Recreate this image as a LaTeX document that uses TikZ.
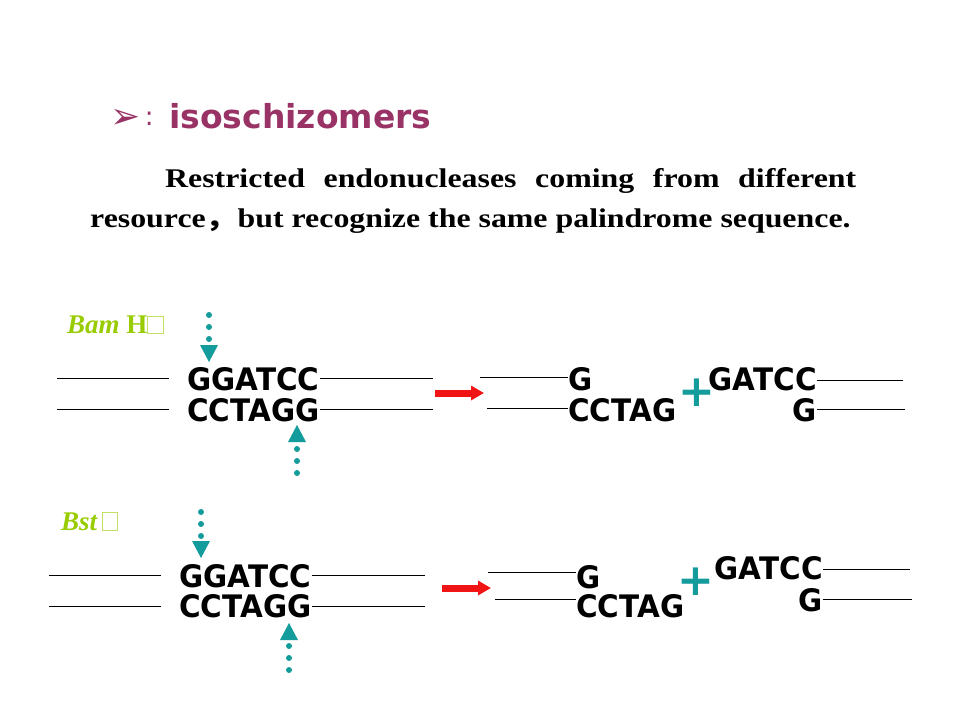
\documentclass[tikz,border=0pt]{standalone}
\usepackage{fontspec}
\usetikzlibrary{arrows.meta,positioning}
\setmainfont{Liberation Serif}
\newfontfamily\headfont{DejaVu Sans}
\newfontfamily\descfont[FakeStretch=1.18]{Liberation Serif}
\newfontfamily\seqfont[FakeStretch=0.95]{DejaVu Sans}
\newfontfamily\cjk[FakeStretch=1.18]{Noto Sans CJK SC}

\definecolor{plum}{RGB}{153,51,102}
\definecolor{cutcol}{RGB}{20,155,155}
\definecolor{lime}{RGB}{153,204,0}
\definecolor{arrowred}{RGB}{240,20,20}

% empty glyph box, as the slide prints it
\newcommand{\nobox}[2]{{\setlength{\fboxsep}{0pt}\setlength{\fboxrule}{0.6pt}\color{lime!60}\fbox{\rule{0pt}{#2}\hspace*{#1}}}}

\begin{document}
\begin{tikzpicture}[x=1pt, y=-1pt,
    seq/.style={inner sep=0, font=\seqfont\bfseries\fontsize{31}{31}\selectfont},
    enzyme/.style={inner sep=0, anchor=base west, text=lime, font=\bfseries\fontsize{27}{27}\selectfont},
    strand/.style={line width=0.8pt},
    cutdot/.style={fill=cutcol},
    plus/.style={inner sep=0, text=cutcol, font=\headfont\bfseries\fontsize{44}{44}\selectfont},
    process/.style={-{Triangle[length=13pt,width=14pt]}, line width=7pt, arrowred}]
\useasboundingbox (0,0) rectangle (960,720);

% heading
\node[inner sep=0, anchor=west, text=plum, font=\headfont\fontsize{36}{36}\selectfont] (bullet) at (110,119) {➢};
\node[inner sep=0, anchor=west, text=plum, font=\headfont\fontsize{26}{26}\selectfont, right=4pt of bullet] (colon) {:};
\node[inner sep=0, anchor=base west, text=plum, font=\headfont\bfseries\fontsize{33}{33}\selectfont] (title) at (169,128) {isoschizomers};

\node[inner sep=0, anchor=north west, text width=766pt, align=justify, font=\descfont\bfseries\fontsize{27}{40}\selectfont] (desc) at (90,168)
  {\hspace*{75pt}Restricted endonucleases coming from different\linebreak
   resource{\cjk\bfseries ，}but recognize the same palindrome sequence.};

% Bam HI
\node[enzyme] (bam) at (67,333) {\textit{Bam} H\nobox{15pt}{16pt}};
\node[seq, anchor=west] (bamtop) at (187,379) {GGATCC};
\node[seq, anchor=west] (bambot) at (187,410) {CCTAGG};
\coordinate (bl1) at (57,378);  \coordinate (bl2) at (169,378);
\coordinate (bl3) at (57,409);  \coordinate (bl4) at (169,409);
\coordinate (br1) at (433,378); \coordinate (br2) at (433,409);
\draw[strand] (bl1) -- (bl2);
\draw[strand] (bl3) -- (bl4);
\draw[strand] (bamtop.east |- bl1) -- (br1);
\draw[strand] (bambot.east |- bl3) -- (br2);
\foreach \y in {315,327,339} \fill[cutdot] (209,\y) circle (3pt);
\fill[cutcol] (209,362) -- (200,345) -- (218,345) -- cycle;
\fill[cutcol] (297,425) -- (288,442) -- (306,442) -- cycle;
\foreach \y in {449,461,473} \fill[cutdot] (297,\y) circle (3pt);

\coordinate (ba1) at (435,393); \coordinate (ba2) at (484,393);
\draw[process] (ba1) -- (ba2);

\node[seq, anchor=west] (bamg) at (568,379) {G};
\node[seq, anchor=west] (bamcc) at (568,410) {CCTAG};
\coordinate (bf1) at (480,377); \coordinate (bf2) at (487,408);
\draw[strand] (bf1) -- (bamg.west |- bf1);
\draw[strand] (bf2) -- (bamcc.west |- bf2);
\node[plus] (bamplus) at (697,393) {+};
\node[seq, anchor=east] (bamga) at (817,379) {GATCC};
\node[seq, anchor=east] (bamg2) at (817,410) {G};
\coordinate (bg1) at (903,380); \coordinate (bg2) at (905,409);
\draw[strand] (bamga.east |- bg1) -- (bg1);
\draw[strand] (bamg2.east |- bg2) -- (bg2);

% Bst
\node[enzyme] (bst) at (61,530) {\textit{Bst}\,\nobox{14pt}{17pt}};
\node[seq, anchor=west] (bsttop) at (179,576) {GGATCC};
\node[seq, anchor=west] (bstbot) at (179,606) {CCTAGG};
\coordinate (sl1) at (49,575);  \coordinate (sl2) at (161,575);
\coordinate (sl3) at (49,606);  \coordinate (sl4) at (161,606);
\coordinate (sr1) at (425,575); \coordinate (sr2) at (425,606);
\draw[strand] (sl1) -- (sl2);
\draw[strand] (sl3) -- (sl4);
\draw[strand] (bsttop.east |- sl1) -- (sr1);
\draw[strand] (bstbot.east |- sl3) -- (sr2);
\foreach \y in {512,524,536} \fill[cutdot] (201,\y) circle (3pt);
\fill[cutcol] (201,558) -- (192,541) -- (210,541) -- cycle;
\fill[cutcol] (289,623) -- (280,640) -- (298,640) -- cycle;
\foreach \y in {646,658,670} \fill[cutdot] (289,\y) circle (3pt);

\coordinate (sa1) at (442,588); \coordinate (sa2) at (491,588);
\draw[process] (sa1) -- (sa2);

\node[seq, anchor=west] (bstg) at (576,577) {G};
\node[seq, anchor=west] (bstcc) at (576,606) {CCTAG};
\coordinate (sf1) at (488,572); \coordinate (sf2) at (495,599);
\draw[strand] (sf1) -- (bstg.west |- sf1);
\draw[strand] (sf2) -- (bstcc.west |- sf2);
\node[plus] (bstplus) at (696,582) {+};
\node[seq, anchor=east] (bstga) at (823,568) {GATCC};
\node[seq, anchor=east] (bstg2) at (823,600) {G};
\coordinate (sg1) at (910,569); \coordinate (sg2) at (912,599);
\draw[strand] (bstga.east |- sg1) -- (sg1);
\draw[strand] (bstg2.east |- sg2) -- (sg2);
\end{tikzpicture}
\end{document}
